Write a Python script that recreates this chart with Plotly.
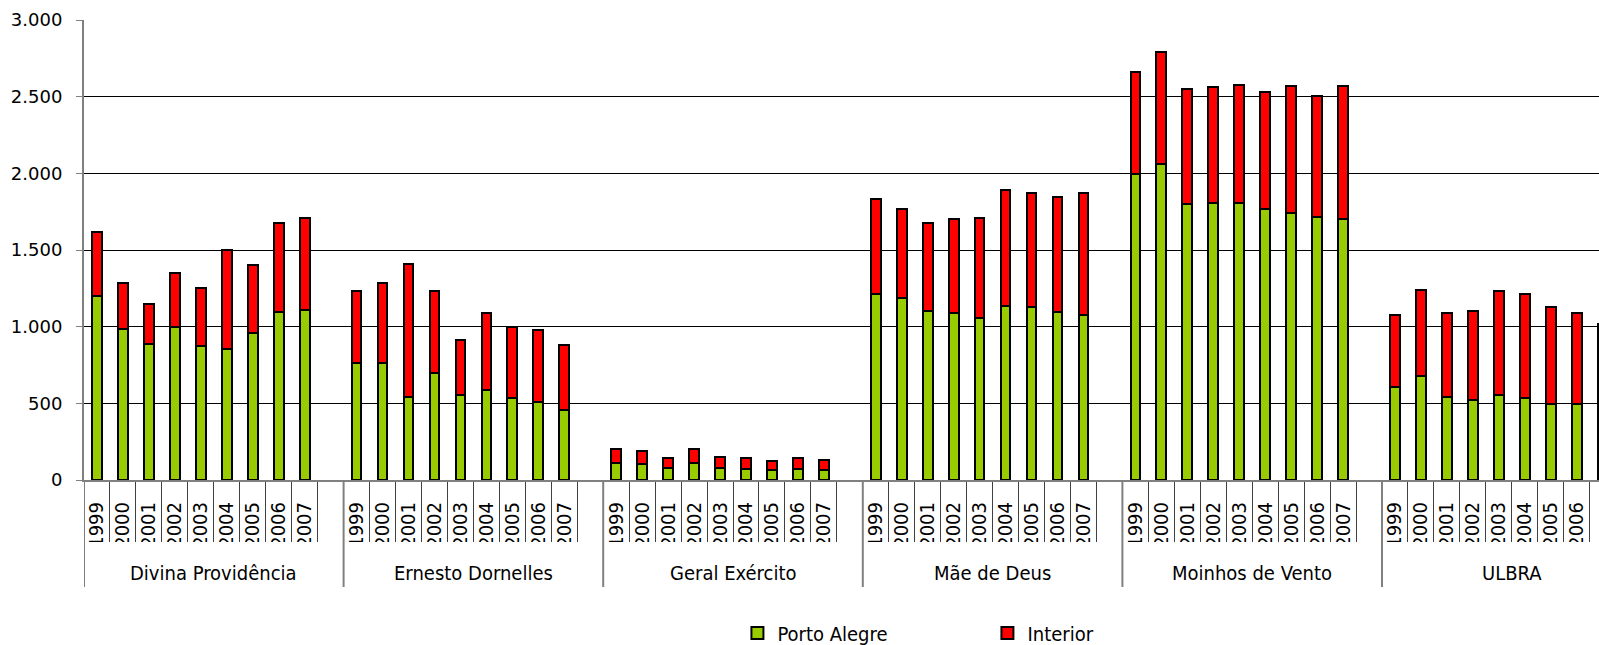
import plotly.graph_objects as go

years = ["1999", "2000", "2001", "2002", "2003", "2004", "2005", "2006", "2007"]
hospitals = ["Divina Providência", "Ernesto Dornelles", "Geral Exército",
             "Mãe de Deus", "Moinhos de Vento", "ULBRA"]

porto_alegre_divina = [1200, 985, 887, 996, 872, 854, 957, 1098, 1107]
porto_alegre_ernesto = [765, 765, 541, 698, 552, 589, 537, 511, 454]
porto_alegre_geral = [109, 107, 76, 109, 78, 72, 65, 74, 67]
porto_alegre_maededeus = [1213, 1189, 1104, 1091, 1059, 1137, 1128, 1096, 1078]
porto_alegre_moinhos = [1996, 2059, 1798, 1809, 1809, 1765, 1739, 1713, 1702]
porto_alegre_ulbra = [609, 678, 541, 520, 552, 533, 494, 494, 480]

interior_divina = [419, 298, 261, 352, 380, 646, 445, 580, 600]
interior_ernesto = [470, 520, 866, 532, 363, 500, 461, 469, 426]
interior_geral = [91, 80, 70, 91, 72, 71, 61, 72, 66]
interior_maededeus = [617, 578, 572, 613, 652, 754, 746, 750, 794]
interior_moinhos = [667, 734, 752, 756, 765, 763, 833, 791, 865]
interior_ulbra = [467, 561, 548, 580, 683, 682, 634, 595, 540]

porto_alegre = [porto_alegre_divina, porto_alegre_ernesto, porto_alegre_geral,
                porto_alegre_maededeus, porto_alegre_moinhos, porto_alegre_ulbra]
interior = [interior_divina, interior_ernesto, interior_geral,
            interior_maededeus, interior_moinhos, interior_ulbra]

SLOTS = len(years) + 1  # nine years plus an empty slot per hospital

xs, pa_vals, in_vals, tick_text = [], [], [], []
for g, h in enumerate(hospitals):
    for i, y in enumerate(years):
        xs.append(g * SLOTS + i)
        pa_vals.append(porto_alegre[g][i])
        in_vals.append(interior[g][i])
        tick_text.append(y)

FONT = "DejaVu Sans Condensed, Liberation Sans Narrow, DejaVu Sans, sans-serif"
YFONT = "DejaVu Sans, Verdana, sans-serif"
GREEN = "#99CC00"
RED = "#FF0000"

fig = go.Figure()
fig.add_trace(go.Bar(x=xs, y=pa_vals, name="Porto Alegre", width=0.375,
                     marker=dict(color=GREEN, line=dict(color="black", width=2))))
fig.add_trace(go.Bar(x=xs, y=in_vals, name="Interior", width=0.375,
                     marker=dict(color=RED, line=dict(color="black", width=2))))

plot_left = 84
fig_w = 1599
fig_h = 645
plot_top = 20
plot_bottom = 480
plot_h = plot_bottom - plot_top
slot_px = 25.96
n_visible = (fig_w - plot_left) / slot_px


def below(px):
    """paper y for a pixel row below the plot area"""
    return (plot_bottom - px) / plot_h


shapes = [
    # category labels end at the bottom of the short dividers
    dict(type="rect", xref="paper", yref="paper", x0=0, x1=1,
         y0=below(542), y1=below(556), fillcolor="white", line=dict(width=0),
         layer="above"),
]
for g in range(len(hospitals) + 1):
    xb = g * SLOTS - 0.5
    shapes.append(dict(type="line", xref="x", yref="paper", x0=xb, x1=xb,
                       y0=0, y1=below(587), line=dict(color="#808080", width=2),
                       layer="above"))

annotations = []
for g, h in enumerate(hospitals):
    annotations.append(dict(x=g * SLOTS + (SLOTS - 1) / 2, y=below(573), xref="x", yref="paper",
                            text=h, showarrow=False, xanchor="center", yanchor="middle",
                            font=dict(family=FONT, size=20, color="black")))

fig.update_layout(
    width=fig_w, height=fig_h, autosize=False,
    margin=dict(l=plot_left, r=0, t=plot_top, b=fig_h - plot_bottom),
    barmode="stack",
    plot_bgcolor="white", paper_bgcolor="white",
    separators=",.",
    font=dict(family=FONT, size=19, color="black"),
    showlegend=True,
    legend=dict(orientation="h", traceorder="normal",
                xref="paper", yref="container",
                x=0.4313, y=(fig_h - 633) / fig_h, xanchor="left", yanchor="middle",
                entrywidth=205, entrywidthmode="pixels",
                font=dict(family=FONT, size=20, color="black"),
                bgcolor="rgba(0,0,0,0)"),
    shapes=shapes,
    annotations=annotations,
)

fig.update_yaxes(range=[0, 3000], dtick=500, tickformat=",d",
                 showgrid=True, gridcolor="black", gridwidth=1,
                 showline=True, linecolor="#808080", linewidth=2,
                 ticks="outside", ticklen=6, tickcolor="#808080",
                 ticklabelstandoff=10,
                 tickfont=dict(family=YFONT, size=18, color="black"),
                 zeroline=False)

fig.update_xaxes(range=[-0.5, -0.5 + n_visible],
                 tickmode="array", tickvals=xs, ticktext=tick_text,
                 tickangle=-90, ticks="", showgrid=False,
                 showline=True, linecolor="#808080", linewidth=2,
                 ticklabelstandoff=12,
                 tickfont=dict(family=FONT, size=20, color="black"),
                 minor=dict(tick0=-0.5, dtick=1, ticks="outside", ticklen=62,
                            tickcolor="#404040", tickwidth=1, showgrid=False),
                 zeroline=False)

fig.write_html("out.html")
